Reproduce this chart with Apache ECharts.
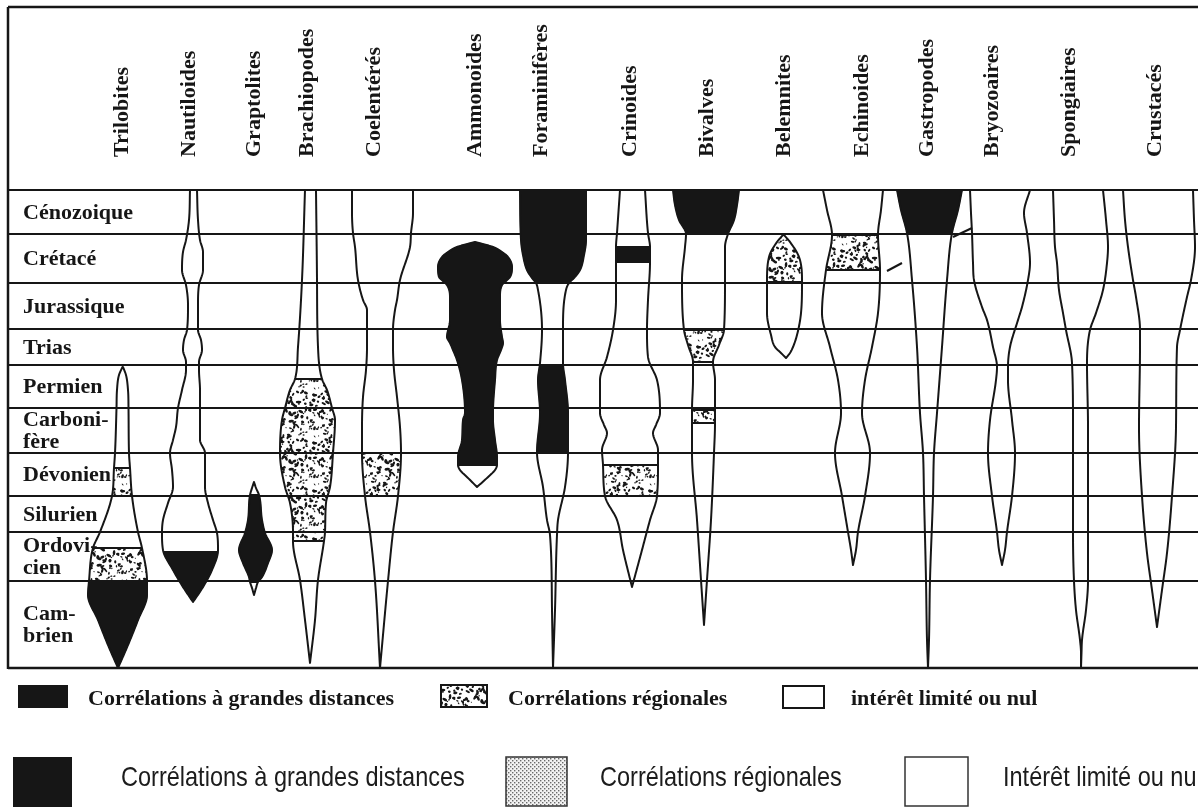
<!DOCTYPE html>
<html><head><meta charset="utf-8">
<script src="https://cdn.jsdelivr.net/npm/echarts@6/dist/echarts.min.js"></script>
<style>html,body{margin:0;padding:0;background:#fff}#c{width:1198px;height:807px}</style>
</head><body><div id="c"></div>
<script>
// ---------- DATA ----------
// geological periods (top to bottom) and their boundaries on the depth axis
const periods = ['Cénozoique','Crétacé','Jurassique','Trias','Permien','Carboni-\nfère','Dévonien','Silurien','Ordovi-\ncien','Cam-\nbrien'];
const boundaries = [0,44,93,139,175,218,263,306,342,391,478];

// fossil groups and their column position on the x axis
const taxa = ['Trilobites','Nautiloides','Graptolites','Brachiopodes','Coelentérés','Ammonoides','Foraminifères','Crinoides','Bivalves','Belemnites','Echinoides','Gastropodes','Bryozoaires','Spongiaires','Crustacés'];
const taxonX = [122,189,254,307,374,475,541,630,707,784,862,927,992,1069,1155];

// spindle outlines: [depth, left edge, right edge]; fills: [from, to, kind] b=long distance, d=regional, w=limited
const trilobitesEdge = [[177,122.5,123],[185,119,126],[200,117,128],[218,116.5,128.5],[263,115,129],[278,114,130],[306,112,132],[342,100,138],[358,93,142],[391,89,147],[405,88,147],[430,98,138],[455,108,128],[478,118,118]];
const trilobitesFill = [[177,278,'w'],[278,306,'d'],[306,358,'w'],[358,391,'d'],[391,478,'b']];

const nautiloidesEdge = [[0,190,197],[30,189,198],[50,186,200],[62,183,203],[80,182,203],[95,186,199],[115,188,198],[140,187,198],[150,184,201],[160,183,202],[172,186,199],[180,186,199],[200,182,200],[218,178,200],[237,176,200],[250,173,200],[263,170,205],[280,172,205],[297,173,205],[313,168,208],[330,163,213],[343,162,217],[360,163,218],[380,173,212],[397,183,203],[412,193,193]];
const nautiloidesFill = [[0,362,'w'],[362,412,'b']];

const graptolitesEdge = [[292,254,254],[298,252,256],[305,250,259],[330,248,262],[343,245,265],[360,239,272],[373,243,268],[387,249,262],[392,250,258],[398,252,256],[405,254,254]];
const graptolitesFill = [[292,305,'w'],[305,392,'b'],[392,405,'w']];

const brachiopodesEdge = [[0,305,316],[90,302,317],[157,298,318],[189,295,322],[200,290,327],[218,285,332],[230,282,335],[263,280,333],[297,285,330],[313,290,326],[342,293,325],[351,293,324],[390,300,318],[430,305,315],[473,310,310]];
const brachiopodesFill = [[0,189,'w'],[189,351,'d'],[351,473,'w']];

const coelenteresEdge = [[0,352,413],[23,352,413],[43,353,411],[57,355,410],[90,358,400],[110,363,397],[120,367,395],[140,367,393],[157,367,393],[180,366,394],[207,363,397],[237,362,400],[263,362,401],[306,365,398],[342,370,393],[391,375,388],[478,380,380]];
const coelenteresFill = [[0,263,'w'],[263,306,'d'],[306,478,'w']];

const ammonoidesEdge = [[52,475,475],[54,467,483],[57,457,493],[62,448,502],[67,442,508],[77,438,512],[87,439,510],[91,443,506],[95,447,502],[107,450,500],[130,450,500],[147,447,502],[153,450,503],[160,453,501],[170,457,497],[190,462,495],[223,465,493],[230,463,493],[250,462,495],[267,458,497],[275,458,497],[280,460,495],[288,468,487],[297,477,477]];
const ammonoidesFill = [[52,275,'b'],[275,297,'w']];

const foraminiferesEdge = [[0,520,586],[50,521,586],[65,523,584],[80,527,580],[88,532,574],[93,536,569],[100,538,566],[140,542,563],[173,540,563],[190,538,565],[223,540,568],[262,537,568],[297,543,565],[330,547,558],[345,550,557],[420,552,555],[478,553,553]];
const foraminiferesFill = [[0,93,'b'],[93,175,'w'],[175,262,'b'],[262,478,'w']];

const crinoidesEdge = [[0,620,645],[43,617,648],[57,616,650],[72,616,650],[110,616,648],[140,613,647],[167,607,648],[190,600,657],[223,600,660],[235,604,656],[243,607,653],[260,602,658],[275,603,658],[306,605,657],[330,617,650],[360,623,642],[397,632,632]];
const crinoidesFill = [[0,57,'w'],[57,72,'b'],[72,275,'w'],[275,306,'d'],[306,397,'w']];

const bivalvesEdge = [[0,673,739],[15,675,737],[30,679,734],[44,686,728],[57,685,725],[90,682,725],[140,684,724],[155,688,719],[172,693,713],[190,693,715],[220,692,715],[233,692,715],[263,692,714],[330,697,711],[390,701,707],[435,704,704]];
const bivalvesFill = [[0,44,'b'],[44,140,'w'],[140,172,'d'],[172,220,'w'],[220,233,'d'],[233,435,'w']];

const belemnitesEdge = [[45,783,784],[52,777,790],[67,769,799],[92,767,802],[123,767,801],[145,771,797],[157,775,793],[163,781,790],[168,786,786]];
const belemnitesFill = [[45,92,'d'],[92,168,'w']];

const echinoidesEdge = [[0,823,883],[20,827,881],[45,832,878],[80,826,880],[123,822,878],[157,830,872],[190,838,865],[223,841,862],[263,835,870],[306,842,865],[342,848,858],[360,851,856],[375,853,853]];
const echinoidesFill = [[0,45,'w'],[45,80,'d'],[80,375,'w']];

const gastropodesEdge = [[0,897,962],[20,901,958],[43,907,952],[90,912,947],[157,917,942],[223,920,937],[263,923,934],[306,924,933],[390,926,930],[450,927,929],[478,928,928]];
const gastropodesFill = [[0,43,'b'],[43,478,'w']];

const bryozoairesEdge = [[0,970,1030],[23,971,1024],[43,972,1027],[73,973,1030],[90,974,1028],[117,982,1022],[130,987,1018],[157,993,1010],[177,997,1008],[190,996,1008],[230,990,1012],[263,988,1015],[306,992,1012],[342,997,1007],[360,999,1005],[375,1002,1002]];
const bryozoairesFill = [[0,375,'w']];

const spongiairesEdge = [[0,1053,1103],[30,1054,1106],[57,1055,1108],[73,1057,1107],[100,1059,1103],[123,1063,1096],[140,1066,1090],[173,1072,1087],[237,1073,1088],[342,1073,1088],[391,1074,1088],[420,1076,1086],[450,1080,1082],[463,1081,1081.5],[478,1081,1081]];
const spongiairesFill = [[0,478,'w']];

const crustacesEdge = [[0,1123,1193],[30,1125,1194],[57,1128,1195],[90,1133,1191],[107,1136,1187],[140,1140,1180],[157,1140,1177],[237,1139,1176],[306,1142,1172],[363,1147,1167],[400,1152,1162],[437,1157,1157]];
const crustacesFill = [[0,437,'w']];

// small marks drawn between columns: [x1, depth1, x2, depth2]
const dashes = [[887,81,902,73],[953,47,972,38]];

// legend texts
const legendSerif = ['Corrélations à grandes distances','Corrélations régionales','intérêt limité ou nul'];
const legendSans = ['Corrélations à grandes distances','Corrélations régionales','Intérêt limité ou nul'];

const spindles = [
  [trilobitesEdge,trilobitesFill],[nautiloidesEdge,nautiloidesFill],[graptolitesEdge,graptolitesFill],
  [brachiopodesEdge,brachiopodesFill],[coelenteresEdge,coelenteresFill],[ammonoidesEdge,ammonoidesFill],
  [foraminiferesEdge,foraminiferesFill],[crinoidesEdge,crinoidesFill],[bivalvesEdge,bivalvesFill],
  [belemnitesEdge,belemnitesFill],[echinoidesEdge,echinoidesFill],[gastropodesEdge,gastropodesFill],
  [bryozoairesEdge,bryozoairesFill],[spongiairesEdge,spongiairesFill],[crustacesEdge,crustacesFill]
];

// ---------- RENDERING ----------
const INK = '#161616';
const SERIF = 'bold 22px "Liberation Serif", "DejaVu Serif", serif';
const SANS = '28px "Liberation Sans", Arial, sans-serif';
const SANS_SCALE = 0.84;

// texture for the "regional" fill (decorative speckle, fixed hash, not data)
function hashf(n){ const s = Math.sin(n * 127.1 + 311.7) * 43758.5453; return s - Math.floor(s); }
function makeStipple(){
  const S = 48, c = document.createElement('canvas'); c.width = c.height = S;
  const g = c.getContext('2d'); g.fillStyle = INK;
  for (let k = 1; k <= 150; k++){
    const x = hashf(k) * S, y = hashf(k + 1000) * S;
    const r = 0.5 + hashf(k + 2000) * 0.9, e = 1 + hashf(k + 3000) * 1.2, a = hashf(k + 4000) * Math.PI;
    for (let ox = -S; ox <= S; ox += S) for (let oy = -S; oy <= S; oy += S){
      g.beginPath(); g.ellipse(x + ox, y + oy, r * e, r, a, 0, Math.PI * 2); g.fill();
    }
  }
  return c;
}
function makeFine(){
  const c = document.createElement('canvas'); c.width = c.height = 4;
  const g = c.getContext('2d'); g.fillStyle = '#f2f2f2'; g.fillRect(0,0,4,4);
  g.fillStyle = '#6a6a6a'; g.fillRect(0,0,1.4,1.4); g.fillRect(2,2,1.4,1.4);
  return c;
}
const stipple = {image: makeStipple(), repeat: 'repeat'};
const fine = {image: makeFine(), repeat: 'repeat'};

function monotone(xs, ys){
  const n = xs.length, d = [], m = [];
  for (let i = 0; i < n - 1; i++) d.push((ys[i+1] - ys[i]) / (xs[i+1] - xs[i]));
  m[0] = d[0]; m[n-1] = d[n-2];
  for (let i = 1; i < n - 1; i++) m[i] = (d[i-1] * d[i] <= 0) ? 0 : (d[i-1] + d[i]) / 2;
  for (let i = 0; i < n - 1; i++){
    if (d[i] === 0){ m[i] = 0; m[i+1] = 0; continue; }
    const a = m[i] / d[i], b = m[i+1] / d[i], s = a*a + b*b;
    if (s > 9){ const t = 3 / Math.sqrt(s); m[i] = t*a*d[i]; m[i+1] = t*b*d[i]; }
  }
  return function(x){
    let i = 0; while (i < n - 2 && x > xs[i+1]) i++;
    const h = xs[i+1] - xs[i], t = Math.min(1, Math.max(0, (x - xs[i]) / h)), t2 = t*t, t3 = t2*t;
    return (2*t3 - 3*t2 + 1)*ys[i] + (t3 - 2*t2 + t)*h*m[i] + (-2*t3 + 3*t2)*ys[i+1] + (t3 - t2)*h*m[i+1];
  };
}
function sampleRange(y0, y1){
  const n = Math.max(2, Math.ceil((y1 - y0) / 1.2)), a = [];
  for (let i = 0; i <= n; i++) a.push(y0 + (y1 - y0) * i / n);
  return a;
}

function renderSpindle(params, api){
  const idx = params.dataIndex;
  const edge = spindles[idx][0], fills = spindles[idx][1];
  const ys = edge.map(p => p[0]);
  const L = monotone(ys, edge.map(p => p[1]));
  const R = monotone(ys, edge.map(p => p[2]));
  const children = [];
  fills.forEach(f => {
    if (f[2] === 'w') return;
    const yy = sampleRange(f[0], f[1]);
    const pts = yy.map(y => api.coord([L(y), y])).concat(yy.slice().reverse().map(y => api.coord([R(y), y])));
    children.push({type:'polygon', shape:{points: pts}, style:{fill: f[2] === 'b' ? INK : stipple, stroke: f[2] === 'b' ? INK : null, lineWidth: 0.8}});
  });
  for (let i = 1; i < fills.length; i++){
    const y = fills[i][0];
    const p1 = api.coord([L(y), y]), p2 = api.coord([R(y), y]);
    children.push({type:'line', shape:{x1:p1[0], y1:p1[1], x2:p2[0], y2:p2[1]}, style:{stroke: INK, lineWidth: 2}});
  }
  const yy = sampleRange(ys[0], ys[ys.length-1]);
  const outline = yy.map(y => api.coord([L(y), y])).concat(yy.slice().reverse().map(y => api.coord([R(y), y])));
  children.push({type:'polygon', shape:{points: outline}, style:{fill: null, stroke: INK, lineWidth: 2, lineJoin: 'round'}});
  const top = api.coord([taxonX[idx], 0]);
  children.push({type:'text', x: top[0], y: top[1] - 33, rotation: Math.PI / 2,
    style:{text: taxa[idx], font: SERIF, fill: INK, align: 'left', verticalAlign: 'middle'}});
  return {type:'group', children};
}

function renderPeriod(params, api){
  const i = params.dataIndex;
  const yTop = boundaries[i], yBot = boundaries[i+1];
  const children = [];
  const a = api.coord([8, yTop]), b = api.coord([1198, yTop]);
  children.push({type:'line', shape:{x1:a[0], y1:a[1], x2:b[0], y2:b[1]}, style:{stroke: INK, lineWidth: 2}});
  if (i === periods.length - 1){
    const c = api.coord([8, yBot]), d = api.coord([1198, yBot]);
    children.push({type:'line', shape:{x1:c[0], y1:c[1], x2:d[0], y2:d[1]}, style:{stroke: INK, lineWidth: 2.5}});
  }
  const m = api.coord([23, (yTop + yBot) / 2]);
  children.push({type:'text', x: m[0], y: m[1] + 1, style:{text: periods[i], font: SERIF, fill: INK, align:'left', verticalAlign:'middle', lineHeight: 22}});
  return {type:'group', children};
}

function renderDash(params, api){
  const d = dashes[params.dataIndex];
  const p1 = api.coord([d[0], d[1]]), p2 = api.coord([d[2], d[3]]);
  return {type:'line', shape:{x1:p1[0], y1:p1[1], x2:p2[0], y2:p2[1]}, style:{stroke: INK, lineWidth: 2}};
}

const chart = echarts.init(document.getElementById('c'), null, {renderer: 'canvas'});
chart.setOption({
  animation: false,
  backgroundColor: '#fff',
  grid: {left: 0, top: 190, width: 1198, height: 478},
  xAxis: {type: 'value', min: 0, max: 1198, show: false},
  yAxis: {type: 'value', min: 0, max: 478, inverse: true, show: false},
  series: [
    {type: 'custom', name: 'periods', z: 1, renderItem: renderPeriod,
     data: periods.map((p, i) => [8, boundaries[i]])},
    {type: 'custom', name: 'taxa', z: 2, renderItem: renderSpindle,
     data: taxa.map((t, i) => [taxonX[i], spindles[i][0][0][0]])},
    {type: 'custom', name: 'dashes', z: 3, renderItem: renderDash,
     data: dashes.map(d => [d[0], d[1]])}
  ],
  graphic: [
    {type:'line', shape:{x1:8, y1:7, x2:1198, y2:7}, style:{stroke: INK, lineWidth: 2.5}},
    {type:'line', shape:{x1:8, y1:7, x2:8, y2:669}, style:{stroke: INK, lineWidth: 2.5}},
    {type:'rect', shape:{x:18, y:685, width:50, height:23}, style:{fill: INK}},
    {type:'text', x:88, y:699, style:{text: legendSerif[0], font: SERIF, fill: INK, verticalAlign:'middle'}},
    {type:'rect', shape:{x:441, y:685, width:46, height:22}, style:{fill: stipple, stroke: INK, lineWidth: 2}},
    {type:'text', x:508, y:699, style:{text: legendSerif[1], font: SERIF, fill: INK, verticalAlign:'middle'}},
    {type:'rect', shape:{x:783, y:686, width:41, height:22}, style:{fill: null, stroke: INK, lineWidth: 2}},
    {type:'text', x:851, y:699, style:{text: legendSerif[2], font: SERIF, fill: INK, verticalAlign:'middle'}},
    {type:'rect', shape:{x:13, y:757, width:59, height:50}, style:{fill: INK}},
    {type:'text', x:121, y:778, scaleX: SANS_SCALE, style:{text: legendSans[0], font: SANS, fill: '#1c1c1c', verticalAlign:'middle'}},
    {type:'rect', shape:{x:506, y:757, width:61, height:49}, style:{fill: fine, stroke: '#333', lineWidth: 1.5}},
    {type:'text', x:600, y:778, scaleX: SANS_SCALE, style:{text: legendSans[1], font: SANS, fill: '#1c1c1c', verticalAlign:'middle'}},
    {type:'rect', shape:{x:905, y:757, width:63, height:49}, style:{fill: '#fff', stroke: '#333', lineWidth: 1.5}},
    {type:'text', x:1003, y:778, scaleX: SANS_SCALE, style:{text: legendSans[2], font: SANS, fill: '#1c1c1c', verticalAlign:'middle'}}
  ]
});
</script>
</body></html>
